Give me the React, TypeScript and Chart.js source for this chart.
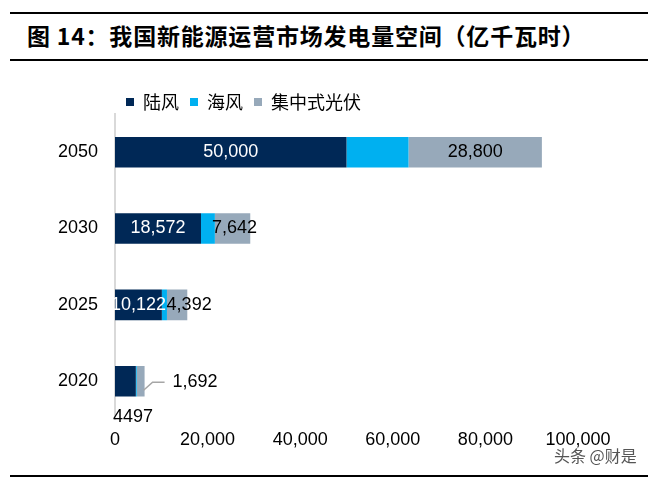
import React, { useEffect, useRef } from 'react';
import { Chart, registerables } from 'chart.js';

Chart.register(...registerables);

// ---- data ----
const categories = ['2050', '2030', '2025', '2020'];
const seriesNames = ['陆风', '海风', '集中式光伏'];
const onshoreWind = [50000, 18572, 10122, 4497];
const offshoreWind = [13400, 3000, 1100, 200];
const centralizedPV = [28800, 7642, 4392, 1692];
const xTicks = [0, 20000, 40000, 60000, 80000, 100000];

const titleText = '图 14：我国新能源运营市场发电量空间（亿千瓦时）';
const watermarkText = '头条 @财是';

// ---- styles ----
const COLORS = ['#002856', '#00B0F0', '#97A9BA'];
const LABEL_COLORS: (string | null)[] = ['#ffffff', null, '#000000'];
const NUM_FONT = '"Liberation Sans", Arial, sans-serif';
const CJK_FONT = '"Noto Sans CJK SC", sans-serif';

type Special = { dataset: number; index: number; mode: 'below' | 'leader' | 'shift'; dx?: number };
const SPECIAL_LABELS: Special[] = [
  { dataset: 0, index: 3, mode: 'below' },
  { dataset: 2, index: 3, mode: 'leader' },
  { dataset: 2, index: 2, mode: 'shift', dx: 12 },
  { dataset: 2, index: 1, mode: 'shift', dx: 2 },
];

const fmt = (v: number) => v.toLocaleString('en-US');

const segLabelPlugin = {
  id: 'segLabels',
  afterDatasetsDraw(chart: any) {
    const ctx = chart.ctx as CanvasRenderingContext2D;
    ctx.save();
    ctx.font = `18px ${NUM_FONT}`;
    ctx.textBaseline = 'middle';
    chart.data.datasets.forEach((ds: any, di: number) => {
      const color = LABEL_COLORS[di];
      if (!color) return;
      const meta = chart.getDatasetMeta(di);
      meta.data.forEach((el: any, i: number) => {
        const { x, y, base } = el.getProps(['x', 'y', 'base'], true);
        const v = ds.data[i] as number;
        const sp = SPECIAL_LABELS.find((s) => s.dataset === di && s.index === i);
        if (sp && sp.mode === 'below') {
          ctx.fillStyle = '#000000';
          ctx.textAlign = 'left';
          ctx.fillText(String(v), base - 2, y + 36);
          return;
        }
        if (sp && sp.mode === 'leader') {
          ctx.strokeStyle = '#a6a6a6';
          ctx.lineWidth = 1.5;
          ctx.beginPath();
          ctx.moveTo(x - 1, y + 9);
          ctx.lineTo(x + 8, y + 1);
          ctx.lineTo(x + 20, y + 1);
          ctx.stroke();
          ctx.fillStyle = '#000000';
          ctx.textAlign = 'left';
          ctx.fillText(fmt(v), x + 28, y + 1);
          return;
        }
        const dx = sp && sp.mode === 'shift' ? sp.dx || 0 : 0;
        ctx.fillStyle = color;
        ctx.textAlign = 'center';
        ctx.fillText(fmt(v), (x + base) / 2 + dx, y);
      });
    });
    ctx.restore();
  },
};

const legendPlacePlugin = {
  id: 'legendPlace',
  afterLayout(chart: any) {
    const lg = chart.legend;
    if (!lg) return;
    const w = lg.right - lg.left;
    lg.left = 115;
    lg.right = 115 + w;
    lg.top += 7;
    lg.bottom += 7;
  },
};

export default function App() {
  const ref = useRef<HTMLCanvasElement | null>(null);

  useEffect(() => {
    if (!ref.current) return;
    const series = [onshoreWind, offshoreWind, centralizedPV];
    const chart = new Chart(ref.current, {
      type: 'bar',
      data: {
        labels: categories,
        datasets: series.map((d, i) => ({
          label: seriesNames[i],
          data: d,
          backgroundColor: COLORS[i],
          borderWidth: 0,
          categoryPercentage: 1,
          barPercentage: 0.4,
        })),
      },
      options: {
        indexAxis: 'y',
        responsive: false,
        animation: false,
        layout: { padding: { top: 75, left: 0, right: 76, bottom: 16 } },
        plugins: {
          legend: {
            position: 'top',
            align: 'start',
            labels: {
              boxWidth: 8,
              boxHeight: 8,
              padding: 11,
              color: '#000000',
              font: { family: CJK_FONT, size: 18 },
            },
          },
          tooltip: { enabled: false },
        },
        scales: {
          x: {
            stacked: true,
            min: xTicks[0],
            max: xTicks[xTicks.length - 1],
            grid: { display: false, drawTicks: false },
            border: { display: false },
            ticks: {
              stepSize: xTicks[1] - xTicks[0],
              padding: 10,
              color: '#000000',
              maxRotation: 0,
              autoSkip: false,
              font: { family: NUM_FONT, size: 18 },
              callback: (v: any) => fmt(Number(v)),
            },
          },
          y: {
            stacked: true,
            grid: { display: false, drawTicks: false },
            border: { display: true, color: '#d9d9d9', width: 2 },
            ticks: {
              padding: 17,
              color: '#000000',
              font: { family: NUM_FONT, size: 18 },
            },
            afterFit: (scale: any) => {
              scale.width = 115;
            },
          },
        },
      },
      plugins: [segLabelPlugin, legendPlacePlugin],
    } as any);
    return () => chart.destroy();
  }, []);

  const line = (top: number): React.CSSProperties => ({
    position: 'absolute',
    left: 10,
    width: 638,
    top,
    height: 2,
    background: '#000',
  });

  return (
    <div style={{ position: 'fixed', left: 0, top: 0, width: 654, height: 477, background: '#fff', overflow: 'hidden' }}>
      <div style={line(12)} />
      <div
        style={{
          position: 'absolute',
          left: 27,
          top: 23,
          fontFamily: CJK_FONT,
          fontWeight: 700,
          fontSize: 23,
          letterSpacing: 0.8,
          lineHeight: '24px',
          color: '#000',
          whiteSpace: 'nowrap',
        }}
      >
        {titleText}
      </div>
      <div style={line(59)} />
      <canvas ref={ref} width={654} height={477} style={{ position: 'absolute', left: 0, top: 0, width: 654, height: 477 }} />
      <div
        style={{
          position: 'absolute',
          left: 554,
          top: 445,
          fontFamily: CJK_FONT,
          fontSize: 16,
          lineHeight: '20px',
          color: '#555',
          textShadow: '0 0 2px #fff, 0 0 2px #fff',
          whiteSpace: 'nowrap',
        }}
      >
        {watermarkText}
      </div>
      <div style={line(475)} />
    </div>
  );
}
